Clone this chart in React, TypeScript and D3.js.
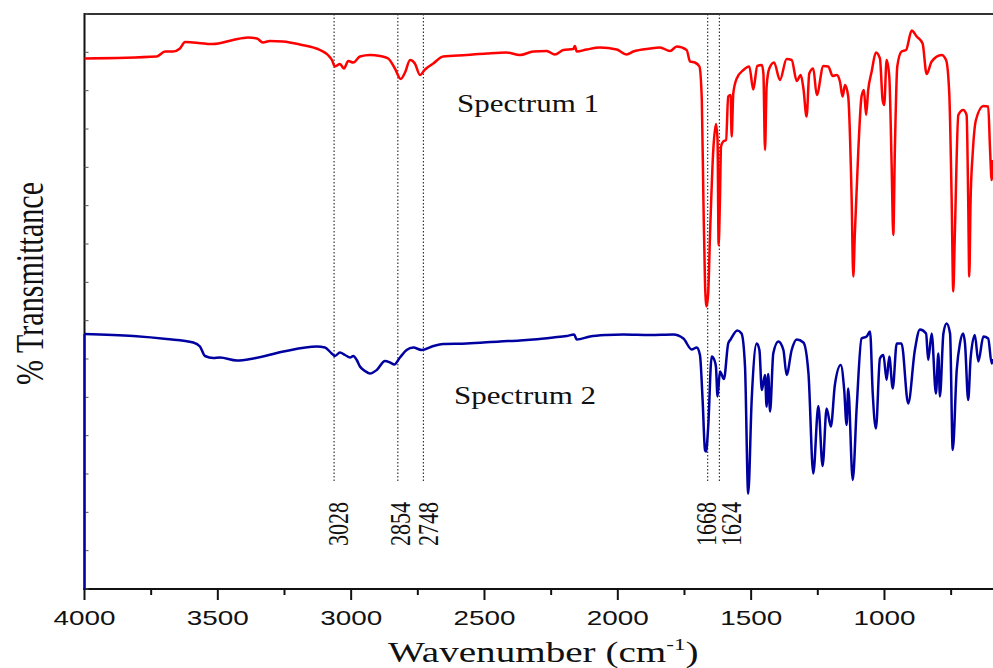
import React from "react";
import * as d3 from "d3";

// [wavenumber (cm-1), % transmittance]
const spectrum1: [number, number][] = [
  [4000, 91.1], [3729, 91.5], [3698, 92.5], [3668, 92.5], [3642, 93.1], [3623, 94.4], [3593, 94.3], [3518, 94.0],
  [3443, 94.8], [3387, 95.3], [3353, 95.1], [3331, 94.3], [3305, 94.6], [3256, 94.5], [3192, 93.9], [3117, 92.8],
  [3087, 91.8], [3072, 90.8], [3061, 89.5], [3042, 90.0], [3027, 89.1], [3011, 90.6], [2992, 90.3], [2967, 91.5],
  [2929, 91.8], [2892, 91.6], [2861, 91.1], [2836, 89.1], [2814, 87.0], [2798, 88.3], [2779, 90.8], [2761, 90.1],
  [2742, 87.8], [2723, 88.9], [2692, 90.1], [2655, 91.5], [2567, 91.8], [2492, 92.1], [2417, 92.3], [2367, 91.8],
  [2317, 92.5], [2267, 92.6], [2236, 91.9], [2204, 92.8], [2167, 93.0], [2161, 93.6], [2154, 92.5], [2117, 92.9],
  [2067, 93.3], [2004, 92.9], [1967, 91.9], [1942, 92.5], [1879, 93.1], [1842, 93.3], [1804, 92.6], [1779, 93.5],
  [1742, 92.8], [1729, 90.5], [1711, 90.3], [1694, 89.5], [1685, 82.8], [1679, 62.8], [1673, 46.2], [1667, 41.5],
  [1661, 44.2], [1654, 56.2], [1642, 72.8], [1632, 78.0], [1626, 74.8], [1622, 53.8], [1617, 62.8], [1613, 73.5],
  [1605, 74.5], [1594, 74.8], [1586, 83.5], [1577, 83.8], [1573, 75.5], [1567, 84.1], [1554, 87.1], [1529, 88.8],
  [1507, 89.5], [1492, 84.9], [1477, 89.6], [1460, 89.8], [1454, 88.1], [1448, 72.8], [1442, 85.5], [1432, 89.1],
  [1414, 90.3], [1392, 86.8], [1367, 91.0], [1348, 90.8], [1329, 86.6], [1314, 87.8], [1304, 85.1], [1292, 79.5],
  [1282, 88.1], [1267, 89.1], [1254, 83.8], [1229, 89.6], [1211, 89.5], [1194, 87.6], [1179, 87.8], [1167, 86.5],
  [1157, 83.5], [1148, 85.8], [1136, 83.5], [1123, 62.8], [1117, 47.5], [1111, 56.2], [1098, 72.8], [1086, 83.5],
  [1077, 84.8], [1069, 79.8], [1061, 84.8], [1048, 88.5], [1032, 92.3], [1017, 91.1], [1007, 82.8], [1001, 81.8],
  [992, 90.8], [982, 87.5], [973, 69.5], [967, 55.8], [961, 72.8], [952, 89.5], [936, 92.5], [919, 92.8],
  [898, 96.7], [879, 95.5], [857, 94.1], [842, 88.0], [823, 90.5], [786, 91.8], [769, 90.8], [757, 84.1],
  [748, 62.8], [742, 44.5], [736, 56.2], [723, 79.8], [705, 80.8], [692, 79.8], [686, 62.8], [682, 47.5],
  [677, 62.8], [669, 72.2], [657, 78.8], [629, 81.6], [611, 81.5], [604, 72.8], [598, 66.8], [593, 70.8],
];

const spectrum2Start = -15; // trace starts at the bottom of the frame at 4000 cm-1
const spectrum2: [number, number][] = [
  [4000, 36.0], [3817, 35.6], [3692, 35.0], [3592, 34.3], [3567, 33.5], [3548, 31.6], [3517, 31.2], [3492, 31.3],
  [3429, 30.7], [3367, 31.1], [3254, 32.5], [3129, 33.5], [3098, 33.3], [3073, 32.1], [3061, 31.6], [3042, 32.3],
  [3023, 31.8], [3004, 31.3], [2992, 31.6], [2979, 30.8], [2967, 29.5], [2948, 28.6], [2929, 28.1], [2904, 28.8],
  [2873, 30.6], [2854, 30.3], [2838, 29.9], [2817, 31.3], [2792, 32.8], [2767, 33.3], [2736, 32.8], [2692, 33.6],
  [2655, 34.0], [2567, 34.1], [2442, 34.5], [2367, 34.7], [2317, 34.9], [2242, 35.3], [2192, 35.6], [2164, 35.9],
  [2154, 34.9], [2104, 35.5], [2042, 35.8], [1979, 35.9], [1879, 35.8], [1792, 35.9], [1754, 35.1], [1723, 32.9],
  [1704, 33.3], [1692, 31.8], [1682, 22.8], [1673, 12.8], [1669, 12.5], [1661, 17.5], [1648, 31.5], [1638, 30.8],
  [1632, 29.5], [1626, 23.5], [1617, 28.5], [1602, 27.0], [1586, 34.1], [1577, 34.9], [1552, 36.7], [1536, 36.1],
  [1523, 29.5], [1511, 4.1], [1498, 22.8], [1479, 34.1], [1469, 32.8], [1460, 24.8], [1448, 27.8], [1442, 21.5],
  [1436, 28.0], [1429, 20.5], [1417, 32.1], [1398, 34.5], [1379, 32.8], [1367, 27.8], [1348, 32.8], [1329, 34.9],
  [1304, 34.3], [1285, 28.1], [1267, 8.1], [1248, 21.6], [1232, 9.6], [1217, 21.1], [1201, 17.5], [1186, 25.8],
  [1164, 29.8], [1151, 24.8], [1142, 17.8], [1136, 25.1], [1119, 6.8], [1104, 21.5], [1086, 35.1], [1067, 35.5],
  [1054, 36.5], [1044, 24.1], [1032, 17.1], [1017, 31.1], [1004, 31.8], [992, 26.8], [982, 31.5], [969, 25.1],
  [954, 34.1], [936, 34.1], [911, 22.1], [886, 32.8], [867, 36.9], [844, 36.1], [836, 30.8], [823, 36.1],
  [807, 24.1], [798, 32.1], [792, 23.5], [779, 36.1], [767, 38.1], [754, 36.1], [744, 12.8], [729, 28.8],
  [717, 34.1], [705, 36.1], [698, 34.1], [686, 22.8], [677, 31.1], [661, 35.8], [648, 30.5], [629, 35.5],
  [611, 35.1], [598, 30.1], [593, 31.0],
];

const majorTicks = [4000, 3500, 3000, 2500, 2000, 1500, 1000];
const minorTicks = [3750, 3250, 2750, 2250, 1750, 1250, 750];
const markerLabels = ["3028", "2854", "2748", "1668", "1624"];
const markerLinePos = [3064, 2825, 2729, 1663, 1619];
const markerLabelPos = [3049, 2817, 2712, 1669, 1573];
const seriesLabels = ["Spectrum 1", "Spectrum 2"];
const seriesLabelPos: [number, number][] = [[2603, 80.5], [2614, 22.0]];

export default function App() {
  const W = 993, H = 668;
  const left = 84.5, right = 993, top = 14, bottom = 589;
  const x = d3.scaleLinear().domain([4000, 593]).range([left, right]);
  const y = d3.scaleLinear().domain([-15, 100]).range([bottom, top]);
  const line = d3
    .line<[number, number]>()
    .x((d) => x(d[0]))
    .y((d) => y(d[1]))
    .curve(d3.curveMonotoneX);
  const yTicks = d3.range(0, 16).map((i) => -15 + (i * 115) / 15);
  const serif = "'Liberation Serif', 'Times New Roman', serif";
  const sans = "'Liberation Sans', Arial, sans-serif";
  const stretch = 1.33;

  return (
    <svg
      width={W}
      height={H}
      viewBox={`0 0 ${W} ${H}`}
      style={{ position: "absolute", left: 0, top: 0, background: "#fff" }}
    >
      <defs>
        <clipPath id="plot">
          <rect x={left - 2} y={top - 2} width={right - left + 4} height={bottom - top + 4} />
        </clipPath>
      </defs>
      <rect x={0} y={0} width={W} height={H} fill="#fff" />

      {/* frame */}
      <line x1={left} x2={right} y1={top} y2={top} stroke="#333" strokeWidth={2} />
      <line x1={left} x2={left} y1={top - 1} y2={bottom + 1} stroke="#111" strokeWidth={2} />
      <line x1={left - 1} x2={right} y1={bottom} y2={bottom} stroke="#111" strokeWidth={2} />

      {/* y ticks (inside, unlabeled) */}
      {yTicks.map((t, i) => (
        <line key={"yt" + i} x1={left} x2={left + 4} y1={y(t)} y2={y(t)} stroke="#555" strokeWidth={1} />
      ))}

      {/* x ticks */}
      {majorTicks.map((t) => (
        <g key={"mt" + t}>
          <line x1={x(t)} x2={x(t)} y1={bottom} y2={bottom + 11} stroke="#111" strokeWidth={2} />
          <text
            x={x(t)}
            y={625}
            textAnchor="middle"
            fontFamily={sans}
            fontSize={21}
            textLength={62}
            lengthAdjust="spacingAndGlyphs"
            fill="#111"
          >
            {t}
          </text>
        </g>
      ))}
      {minorTicks.map((t) => (
        <line key={"nt" + t} x1={x(t)} x2={x(t)} y1={bottom} y2={bottom + 6} stroke="#111" strokeWidth={2} />
      ))}

      {/* marker lines */}
      {markerLinePos.map((p, i) => (
        <line
          key={"ml" + i}
          x1={x(p)}
          x2={x(p)}
          y1={top}
          y2={483}
          stroke="#333"
          strokeWidth={1.2}
          strokeDasharray="1.5,2"
        />
      ))}
      {markerLabels.map((lab, i) => (
        <text
          key={"mlab" + i}
          transform={`translate(${x(markerLabelPos[i]) + 9.7},546) scale(${stretch},1) rotate(-90)`}
          fontFamily={serif}
          fontSize={22}
          fill="#111"
        >
          {lab}
        </text>
      ))}

      {/* spectra */}
      <g clipPath="url(#plot)">
        <line
          x1={x(spectrum2[0][0])}
          x2={x(spectrum2[0][0])}
          y1={y(spectrum2Start)}
          y2={y(spectrum2[0][1])}
          stroke="#0000a0"
          strokeWidth={2.2}
        />
        <path d={line(spectrum2) || ""} fill="none" stroke="#0000a0" strokeWidth={2.5} strokeLinejoin="round" />
        <path d={line(spectrum1) || ""} fill="none" stroke="#ff0000" strokeWidth={2.5} strokeLinejoin="round" />
      </g>

      {/* series labels */}
      {seriesLabels.map((s, i) => (
        <text
          key={"sl" + i}
          x={x(seriesLabelPos[i][0])}
          y={y(seriesLabelPos[i][1])}
          fontFamily={serif}
          fontSize={25}
          textLength={142}
          lengthAdjust="spacingAndGlyphs"
          fill="#111"
        >
          {s}
        </text>
      ))}

      {/* axis titles */}
      <text
        transform={`translate(43,385) scale(${stretch},1) rotate(-90)`}
        fontFamily={serif}
        fontSize={30}
        textLength={203}
        lengthAdjust="spacingAndGlyphs"
        fill="#111"
      >
        % Transmittance
      </text>
      <g transform={`translate(388,662) scale(1.35,1)`}>
        <text x={0} y={0} fontFamily={serif} fontSize={29} fill="#111">
          Wavenumber (cm
          <tspan fontSize={17} dy={-12}>-1</tspan>
          <tspan dy={12}>)</tspan>
        </text>
      </g>
    </svg>
  );
}
